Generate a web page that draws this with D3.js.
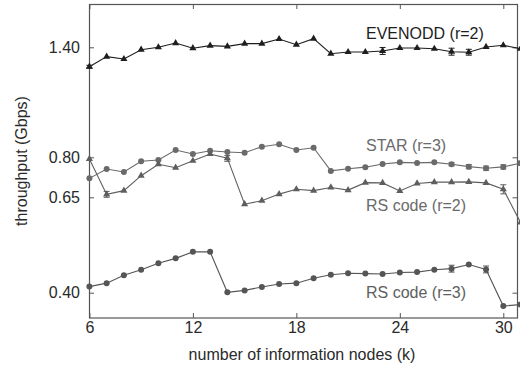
<!DOCTYPE html>
<html>
<head>
<meta charset="utf-8">
<script src="https://cdn.jsdelivr.net/npm/d3@7"></script>
<style>
  body { margin: 0; background: #fff; }
  text { font-family: "Liberation Sans", Arial, sans-serif; }
</style>
</head>
<body>
<div id="chart"></div>
<script>
// k values (number of information nodes)
var kValues = [6,7,8,9,10,11,12,13,14,15,16,17,18,19,20,21,22,23,24,25,26,27,28,29,30,31];

var evenodd = [1.294,1.349,1.336,1.387,1.400,1.423,1.395,1.409,1.405,1.420,1.420,1.445,1.414,
               1.447,1.365,1.374,1.374,1.380,1.396,1.396,1.392,1.376,1.373,1.402,1.411,1.392];
var evenoddErr = [0.008,0,0,0,0,0,0,0,0,0,0,0,0,0,0,0,0,0.019,0,0,0,0.019,0.016,0,0,0];

var star = [0.721,0.756,0.745,0.785,0.790,0.840,0.818,0.836,0.829,0.825,0.858,0.871,0.840,
            0.852,0.749,0.757,0.763,0.775,0.781,0.779,0.781,0.774,0.765,0.759,0.764,0.778];
var starErr = [0,0,0,0,0,0,0,0,0,0,0,0,0,0,0,0,0,0,0,0,0,0.006,0.008,0.008,0.008,0.008];

var rs2 = [0.794,0.661,0.675,0.731,0.774,0.761,0.787,0.818,0.797,0.632,0.641,0.662,0.680,
           0.675,0.687,0.677,0.705,0.704,0.674,0.702,0.707,0.707,0.708,0.704,0.680,0.584];
var rs2Err = [0,0.011,0,0,0,0,0,0,0.012,0,0,0,0,0,0,0,0,0,0,0,0,0,0,0,0.017,0];

var rs3 = [0.416,0.425,0.446,0.460,0.477,0.490,0.507,0.507,0.401,0.406,0.415,0.423,0.425,
           0.438,0.447,0.451,0.450,0.449,0.453,0.454,0.460,0.463,0.474,0.461,0.365,0.369];
var rs3Err = [0,0,0,0,0,0,0,0,0,0,0,0,0,0,0,0,0,0,0,0,0,0.009,0,0.009,0,0];

var xTicks = [6,12,18,24,30];
var yTicks = [0.40,0.65,0.80,1.40];

var series = [
  {name: "EVENODD (r=2)", values: evenodd, err: evenoddErr, shape: "tri", color: "#1e1e1e"},
  {name: "STAR (r=3)", values: star, err: starErr, shape: "circle", color: "#6a6a6a"},
  {name: "RS code (r=2)", values: rs2, err: rs2Err, shape: "tri", color: "#5e5e5e"},
  {name: "RS code (r=3)", values: rs3, err: rs3Err, shape: "circle", color: "#555555"}
];

var margin = {top: 4, right: 1, bottom: 57, left: 89},
    width = 520 - margin.left - margin.right,
    height = 375 - margin.top - margin.bottom;

var svg = d3.select("#chart")
  .append("svg")
    .attr("width", 520)
    .attr("height", 375)
  .append("g")
    .attr("transform", "translate(" + margin.left + "," + margin.top + ")");

var x = d3.scaleLinear()
  .domain([6, 30])
  .range([0.4, 414.3]);

// the axis is broken into pieces, so a piecewise scale
var y = d3.scaleLinear()
  .domain([0.40, 0.65, 0.80, 1.40])
  .range([288.7, 193.3, 153.3, 43.3]);

var axisColor = "#555";

// bottom axis
var gx = svg.append("g")
  .attr("transform", "translate(0," + height + ")")
  .call(d3.axisBottom(x).tickValues(xTicks).tickSize(-5).tickPadding(4).tickFormat(d3.format("d")));
// top axis (mirror ticks)
var gxt = svg.append("g")
  .call(d3.axisTop(x).tickValues(xTicks).tickSize(-5).tickFormat(""));
// left axis
var gy = svg.append("g")
  .call(d3.axisLeft(y).tickValues(yTicks).tickSize(-5).tickPadding(9).tickFormat(d3.format(".2f")));
// right axis
var gyr = svg.append("g")
  .attr("transform", "translate(" + (width - 1.5) + ",0)")
  .call(d3.axisRight(y).tickValues(yTicks).tickSize(-5).tickFormat(""));

[gx, gxt, gy, gyr].forEach(function(g) {
  g.select(".domain").remove();
  g.selectAll(".tick line").attr("stroke", axisColor);
  g.selectAll(".tick text").attr("fill", "#2a2a2a").style("font-size", "16px")
    .style("font-family", "'Liberation Sans', Arial, sans-serif");
});

// frame
svg.append("rect")
  .attr("x", 0.5).attr("y", 0.5)
  .attr("width", width - 2).attr("height", height - 0.5)
  .attr("fill", "none")
  .attr("stroke", axisColor)
  .attr("stroke-width", 1.2);

var line = d3.line()
  .x(function(d) { return x(d.k); })
  .y(function(d) { return y(d.v); });

var tri = d3.symbol().type(d3.symbolTriangle).size(22);

series.forEach(function(s) {
  var pts = kValues.map(function(k, i) { return {k: k, v: s.values[i], e: s.err[i]}; });
  var g = svg.append("g");

  g.append("path")
    .datum(pts)
    .attr("fill", "none")
    .attr("stroke", s.color)
    .attr("stroke-width", 1.1)
    .attr("d", line);

  // error bars
  var eb = g.selectAll(".eb")
    .data(pts.filter(function(d) { return d.e > 0; }))
    .enter().append("g")
      .attr("stroke", s.color)
      .attr("stroke-width", 1);
  eb.append("line")
    .attr("x1", function(d) { return x(d.k); })
    .attr("x2", function(d) { return x(d.k); })
    .attr("y1", function(d) { return y(d.v - d.e); })
    .attr("y2", function(d) { return y(d.v + d.e); });
  [1, -1].forEach(function(sg) {
    eb.append("line")
      .attr("x1", function(d) { return x(d.k) - 3; })
      .attr("x2", function(d) { return x(d.k) + 3; })
      .attr("y1", function(d) { return y(d.v + sg * d.e); })
      .attr("y2", function(d) { return y(d.v + sg * d.e); });
  });

  if (s.shape == "circle") {
    g.selectAll("circle")
      .data(pts)
      .enter().append("circle")
        .attr("cx", function(d) { return x(d.k); })
        .attr("cy", function(d) { return y(d.v); })
        .attr("r", 3)
        .attr("fill", s.color);
  } else {
    g.selectAll(".m")
      .data(pts)
      .enter().append("path")
        .attr("transform", function(d) { return "translate(" + x(d.k) + "," + y(d.v) + ")"; })
        .attr("d", tri)
        .attr("fill", s.color);
  }
});

// series labels
var labelPos = [
  {y: 35, color: "#1e1e1e"},
  {y: 146.7, color: "#6a6a6a"},
  {y: 207, color: "#6a6a6a"},
  {y: 294.3, color: "#5e5e5e"}
];
series.forEach(function(s, i) {
  svg.append("text")
    .attr("x", 277)
    .attr("y", labelPos[i].y)
    .attr("fill", labelPos[i].color)
    .style("font-size", "16px")
    .text(s.name);
});

// x axis label
svg.append("text")
  .attr("x", 302 - margin.left)
  .attr("y", 360 - margin.top)
  .attr("text-anchor", "middle")
  .attr("fill", "#2a2a2a")
  .style("font-size", "16px")
  .text("number of information nodes (k)");

// y axis label
svg.append("text")
  .attr("transform", "rotate(-90)")
  .attr("x", -(161 - margin.top))
  .attr("y", 27 - margin.left)
  .attr("text-anchor", "middle")
  .attr("fill", "#2a2a2a")
  .style("font-size", "16px")
  .text("throughput (Gbps)");
</script>
</body>
</html>
